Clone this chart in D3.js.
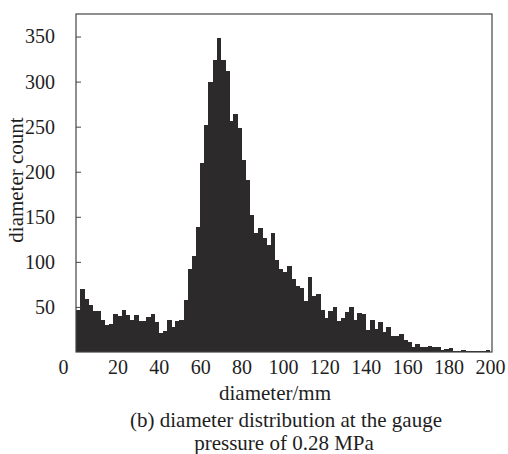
<!DOCTYPE html>
<html>
<head>
<meta charset="utf-8">
<script src="https://cdn.jsdelivr.net/npm/d3@7"></script>
<style>
  body { margin: 0; background: #fff; }
  svg text { font-family: "Liberation Serif", "Times New Roman", serif; fill: #1e1e1e; }
</style>
</head>
<body>
<div id="root"></div>
<script>
// histogram counts, one per 2 mm bin from 0 to 200 mm
var counts = [
  47, 70, 59, 52, 46, 46, 35, 30, 31, 42,
  40, 47, 41, 35, 41, 34, 34, 39, 42, 33,
  21, 23, 35, 28, 34, 36, 58, 92, 106, 139,
  210, 252, 300, 324, 348, 324, 312, 256, 264, 249,
  213, 191, 152, 132, 138, 126, 119, 132, 102, 92,
  89, 95, 81, 73, 71, 57, 83, 62, 64, 47,
  38, 45, 50, 34, 38, 44, 50, 35, 43, 42,
  24, 35, 26, 33, 22, 28, 18, 18, 20, 13,
  11, 6, 9, 5, 5, 7, 6, 5, 2, 3,
  4, 1, 1, 2, 1, 1, 1, 1, 1, 2
];
var binWidth = 2;
var xTicks = [0, 20, 40, 60, 80, 100, 120, 140, 160, 180, 200];
var yTicks = [50, 100, 150, 200, 250, 300, 350];

var svgWidth = 508,
    svgHeight = 454;
var margin = { top: 14, right: 16, bottom: 102, left: 76 };
var width = svgWidth - margin.left - margin.right,
    height = svgHeight - margin.top - margin.bottom;

var svg = d3.select("#root").append("svg")
    .attr("width", svgWidth)
    .attr("height", svgHeight);

var g = svg.append("g")
    .attr("transform", "translate(" + margin.left + "," + margin.top + ")");

var x = d3.scaleLinear().domain([0, 201]).range([0, width]);
var y = d3.scaleLinear().domain([0, 375]).range([height, 0]);

// bars
g.append("g")
    .selectAll("rect")
    .data(counts)
    .enter().append("rect")
    .attr("x", function (d, i) { return x(i * binWidth); })
    .attr("width", function (d, i) { return x((i + 1) * binWidth) - x(i * binWidth) + 0.5; })
    .attr("y", function (d) { return y(d); })
    .attr("height", function (d) { return height - y(d); })
    .attr("fill", "#2c2a2b")
    .attr("shape-rendering", "crispEdges");

// x axis
var xAxis = g.append("g")
    .attr("transform", "translate(0," + height + ")")
    .call(d3.axisBottom(x).tickValues(xTicks).tickSize(0).tickPadding(10).tickFormat(d3.format("d")));
xAxis.select(".domain").remove();
xAxis.selectAll("text")
    .attr("font-size", 20)
    .attr("dy", "0.62em")
    .attr("dx", function (d) { return d === 0 ? -13 : 0; });

// y axis, ticks pointing in
var yAxis = g.append("g")
    .call(d3.axisLeft(y).tickValues(yTicks).tickSize(-5).tickPadding(21));
yAxis.select(".domain").remove();
yAxis.selectAll("line").attr("stroke", "#444");
yAxis.selectAll("text")
    .attr("font-size", 20);

// frame
g.append("rect")
    .attr("width", width)
    .attr("height", height)
    .attr("fill", "none")
    .attr("stroke", "#444")
    .attr("stroke-width", 1.2);

// axis titles
svg.append("text")
    .attr("x", 275)
    .attr("y", 400)
    .attr("text-anchor", "middle")
    .attr("font-size", 21)
    .text("diameter/mm");

svg.append("text")
    .attr("transform", "translate(23,180) rotate(-90)")
    .attr("text-anchor", "middle")
    .attr("font-size", 21)
    .text("diameter count");

// caption
svg.append("text")
    .attr("x", 286)
    .attr("y", 427)
    .attr("text-anchor", "middle")
    .attr("font-size", 21)
    .text("(b) diameter distribution at the gauge");

svg.append("text")
    .attr("x", 284)
    .attr("y", 450)
    .attr("text-anchor", "middle")
    .attr("font-size", 21)
    .text("pressure of 0.28 MPa");
</script>
</body>
</html>
